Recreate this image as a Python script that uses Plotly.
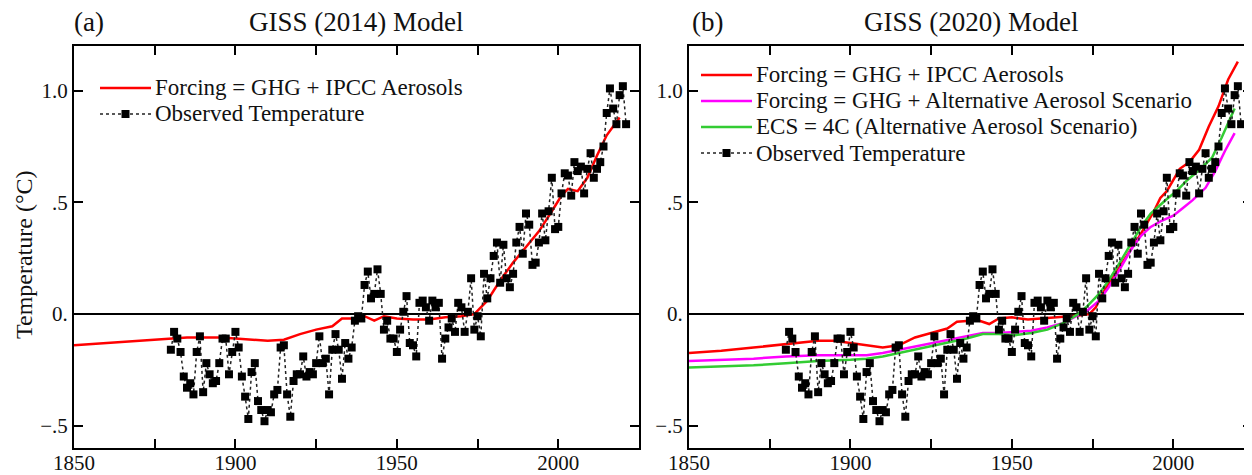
import plotly.graph_objects as go

# ---------------- data ----------------
obs_years = list(range(1880, 2022))
obs_temp = [
    -0.16, -0.08, -0.11, -0.17, -0.28, -0.33, -0.31, -0.36, -0.17, -0.10,
    -0.35, -0.22, -0.27, -0.31, -0.30, -0.22, -0.11, -0.11, -0.27, -0.17,
    -0.08, -0.15, -0.28, -0.37, -0.47, -0.26, -0.22, -0.39, -0.43, -0.48,
    -0.43, -0.44, -0.36, -0.34, -0.15, -0.14, -0.36, -0.46, -0.30, -0.27,
    -0.27, -0.19, -0.28, -0.26, -0.27, -0.22, -0.10, -0.22, -0.20, -0.36,
    -0.16, -0.09, -0.16, -0.29, -0.13, -0.20, -0.15, -0.03, -0.01, -0.02,
    0.13, 0.19, 0.07, 0.09, 0.20, 0.09, -0.07, -0.03, -0.11, -0.11,
    -0.17, -0.07, 0.01, 0.08, -0.13, -0.14, -0.19, 0.05, 0.06, 0.03,
    -0.03, 0.06, 0.03, 0.05, -0.20, -0.11, -0.06, -0.02, -0.08, 0.05,
    0.03, -0.08, 0.01, 0.16, -0.07, -0.01, -0.10, 0.18, 0.07, 0.16,
    0.26, 0.32, 0.14, 0.31, 0.16, 0.12, 0.18, 0.32, 0.39, 0.27,
    0.45, 0.40, 0.22, 0.23, 0.32, 0.45, 0.33, 0.46, 0.61, 0.38,
    0.39, 0.54, 0.63, 0.62, 0.53, 0.68, 0.64, 0.66, 0.54, 0.65,
    0.72, 0.61, 0.65, 0.68, 0.75, 0.90, 1.01, 0.92, 0.85, 0.98,
    1.02, 0.85,
]

# GISS (2014) model, GHG + IPCC aerosols
a_years = [1850, 1855, 1860, 1865, 1870, 1875, 1880, 1885, 1890, 1895,
           1900, 1905, 1910, 1915, 1920, 1925, 1930, 1933, 1937, 1940,
           1943, 1946, 1950, 1955, 1960, 1965, 1970, 1974, 1978, 1982,
           1986, 1990, 1994, 1998, 2001, 2003, 2006, 2009, 2012, 2015, 2019]
a_red = [-0.14, -0.135, -0.13, -0.125, -0.12, -0.115, -0.11, -0.105, -0.105, -0.105,
         -0.11, -0.115, -0.12, -0.115, -0.09, -0.07, -0.055, -0.02, -0.02, -0.01,
         -0.03, -0.01, -0.02, -0.025, -0.025, -0.015, -0.01, 0.0, 0.06, 0.15,
         0.23, 0.30, 0.37, 0.46, 0.53, 0.56, 0.55, 0.61, 0.71, 0.80, 0.88]

# GISS (2020) model
b_red_years = [1850, 1860, 1870, 1880, 1885, 1890, 1895, 1900, 1905, 1910,
               1915, 1920, 1925, 1930, 1933, 1937, 1940, 1943, 1946, 1950,
               1955, 1960, 1965, 1970, 1974, 1976, 1978, 1982, 1986, 1990,
               1994, 1996, 1998, 2000, 2002, 2005, 2008, 2011, 2014, 2017, 2020]
b_red = [-0.175, -0.165, -0.15, -0.135, -0.13, -0.12, -0.12, -0.13, -0.14, -0.15,
         -0.14, -0.105, -0.085, -0.065, -0.035, -0.03, -0.03, -0.045, -0.02, -0.015,
         -0.025, -0.02, -0.012, -0.008, 0.0, 0.03, 0.09, 0.18, 0.27, 0.36,
         0.46, 0.52, 0.55, 0.60, 0.65, 0.68, 0.735, 0.84, 0.93, 1.05, 1.13]

b_alt_years = [1850, 1860, 1870, 1880, 1890, 1900, 1905, 1910, 1915, 1920,
               1925, 1930, 1936, 1941, 1946, 1951, 1956, 1961, 1966, 1970,
               1973, 1977, 1980, 1983, 1987, 1990, 1993, 1996, 2000, 2003,
               2006, 2010, 2013, 2016, 2019]
b_magenta = [-0.21, -0.205, -0.20, -0.19, -0.185, -0.185, -0.185, -0.175, -0.16, -0.145,
             -0.13, -0.115, -0.10, -0.085, -0.085, -0.08, -0.075, -0.06, -0.04, -0.01,
             0.01, 0.06, 0.12, 0.19, 0.29, 0.35, 0.39, 0.415, 0.44, 0.475,
             0.51, 0.565, 0.64, 0.73, 0.81]

b_ecs_years = [1850, 1860, 1870, 1880, 1890, 1900, 1905, 1910, 1915, 1920,
               1925, 1930, 1936, 1941, 1946, 1951, 1956, 1961, 1966, 1970,
               1973, 1977, 1980, 1983, 1987, 1990, 1993, 1996, 1998, 2001,
               2004, 2008, 2012, 2015, 2019]
b_green = [-0.24, -0.235, -0.23, -0.22, -0.21, -0.205, -0.20, -0.19, -0.175, -0.16,
           -0.145, -0.13, -0.11, -0.09, -0.09, -0.095, -0.085, -0.07, -0.04, -0.005,
           0.03, 0.09, 0.15, 0.22, 0.32, 0.39, 0.45, 0.49, 0.515, 0.55,
           0.595, 0.645, 0.70, 0.79, 0.92]

x_tickvals = [1850, 1875, 1900, 1925, 1950, 1975, 2000, 2025]
x_ticktext = ["1850", "", "1900", "", "1950", "", "2000", ""]
y_tickvals = [-0.5, 0.0, 0.5, 1.0]
y_ticktext = ["\u2212.5", "0.", ".5", "1.0"]

legend_a = ["Forcing = GHG + IPCC Aerosols", "Observed Temperature"]
legend_b = ["Forcing = GHG + IPCC Aerosols",
            "Forcing = GHG + Alternative Aerosol Scenario",
            "ECS = 4C (Alternative Aerosol Scenario)",
            "Observed Temperature"]

# ---------------- figure ----------------
FONT = "Liberation Serif"
TXT = "#111111"
RED, MAG, GRN = "#ff0000", "#ff00ff", "#33cc33"
OFF = 8                      # page body margin
W, H = 1252 - OFF, 475 - OFF


def px(sx):
    return (sx - OFF) / W


def py(sy):
    return 1 - (sy - OFF) / H


fig = go.Figure()

obs_style = dict(mode="lines+markers",
                 line=dict(color="#222222", width=1.5, dash="dot"),
                 marker=dict(symbol="square", size=8, color="black"),
                 showlegend=False)

fig.add_trace(go.Scatter(x=a_years, y=a_red, mode="lines", showlegend=False,
                         line=dict(color=RED, width=2.5), name=legend_a[0],
                         xaxis="x", yaxis="y"))
fig.add_trace(go.Scatter(x=obs_years, y=obs_temp, name=legend_a[1],
                         xaxis="x", yaxis="y", **obs_style))

fig.add_trace(go.Scatter(x=b_red_years, y=b_red, mode="lines", showlegend=False,
                         line=dict(color=RED, width=2.5), name=legend_b[0],
                         xaxis="x2", yaxis="y2"))
fig.add_trace(go.Scatter(x=b_alt_years, y=b_magenta, mode="lines", showlegend=False,
                         line=dict(color=MAG, width=2.5), name=legend_b[1],
                         xaxis="x2", yaxis="y2"))
fig.add_trace(go.Scatter(x=b_ecs_years, y=b_green, mode="lines", showlegend=False,
                         line=dict(color=GRN, width=2.5), name=legend_b[2],
                         xaxis="x2", yaxis="y2"))
fig.add_trace(go.Scatter(x=obs_years, y=obs_temp, name=legend_b[3],
                         xaxis="x2", yaxis="y2", **obs_style))

ydom = [py(448), py(46)]
xdom1 = [px(74), px(639)]
xdom2 = [px(689), 1.0]
x2_end = 1850 + (1252 - 689) * 175 / 565.0

axis_common = dict(showline=True, linecolor="black", linewidth=2,
                   mirror="allticks", ticks="inside", ticklen=9, tickwidth=1.5,
                   tickcolor="black", showgrid=False, automargin=False,
                   tickfont=dict(family=FONT, size=21, color=TXT))

xcommon = dict(axis_common, tickmode="array", ticklabelstandoff=-5,
               tickvals=x_tickvals, ticktext=x_ticktext, zeroline=False)
ycommon = dict(axis_common, range=[-0.6, 1.2], tickmode="array",
               tickvals=y_tickvals, ticktext=y_ticktext,
               zeroline=True, zerolinecolor="black", zerolinewidth=1.5)

fig.update_layout(
    template="none",
    width=W, height=H,
    margin=dict(l=0, r=0, t=0, b=0, autoexpand=False),
    paper_bgcolor="white", plot_bgcolor="white",
    font=dict(family=FONT, color=TXT),
    xaxis=dict(xcommon, domain=xdom1, anchor="y", range=[1850, 2025]),
    yaxis=dict(ycommon, domain=ydom, anchor="x"),
    xaxis2=dict(xcommon, domain=xdom2, anchor="y2", range=[1850, x2_end]),
    yaxis2=dict(ycommon, domain=ydom, anchor="x2"),
    showlegend=False,
)

annotations = []
shapes = []

# panel labels and titles
for text, sx, anchor in [("(a)", 72, "left"), ("(b)", 690, "left"),
                         ("GISS (2014) Model", (74 + 639) / 2, "center"),
                         ("GISS (2020) Model", (689 + 1254) / 2, "center")]:
    annotations.append(dict(text=text, x=px(sx), y=py(22), xref="paper", yref="paper",
                            showarrow=False, xanchor=anchor, yanchor="middle",
                            font=dict(family=FONT, size=27, color=TXT)))

annotations.append(dict(text="Temperature (\u00b0C)", x=px(24), y=py(255),
                        xref="paper", yref="paper", showarrow=False, textangle=-90,
                        xanchor="center", yanchor="middle", borderpad=0,
                        font=dict(family=FONT, size=24, color=TXT)))


# hand-built legends (tight row spacing as in the original)
def legend_rows(labels, styles, x0, x1, tx, y0, dy):
    for i, (lab, st) in enumerate(zip(labels, styles)):
        yy = py(y0 + i * dy)
        if st == "obs":
            shapes.append(dict(type="line", xref="paper", yref="paper",
                               x0=px(x0), x1=px(x1), y0=yy, y1=yy,
                               line=dict(color="#222222", width=1.5, dash="dot")))
            cx = (x0 + x1) / 2
            shapes.append(dict(type="rect", xref="paper", yref="paper",
                               x0=px(cx - 4), x1=px(cx + 4),
                               y0=yy - 4 / H, y1=yy + 4 / H,
                               fillcolor="black", line=dict(width=0)))
        else:
            shapes.append(dict(type="line", xref="paper", yref="paper",
                               x0=px(x0), x1=px(x1), y0=yy, y1=yy,
                               line=dict(color=st, width=2.5)))
        annotations.append(dict(text=lab, x=px(tx), y=yy, xref="paper", yref="paper",
                                showarrow=False, xanchor="left", yanchor="middle",
                                font=dict(family=FONT, size=23, color=TXT)))


legend_rows(legend_a, [RED, "obs"], 100, 151, 153, 88, 26)
legend_rows(legend_b, [RED, MAG, GRN, "obs"], 701, 752, 754, 75, 26)

fig.update_layout(annotations=annotations, shapes=shapes)

fig.write_html("out.html")
